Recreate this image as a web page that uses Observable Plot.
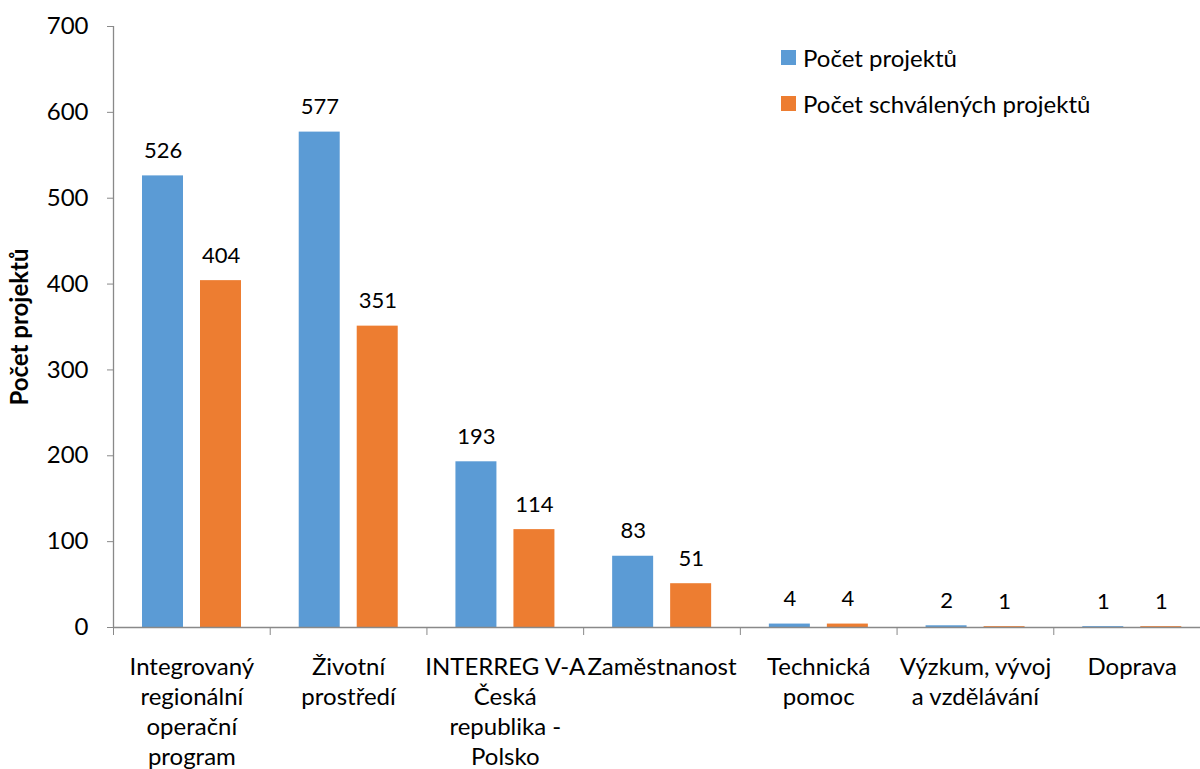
<!DOCTYPE html>
<html>
<head>
<meta charset="utf-8">
<script src="https://cdn.jsdelivr.net/npm/d3@7"></script>
<script src="https://cdn.jsdelivr.net/npm/@observablehq/plot@0.6"></script>
<style>
  html, body { margin: 0; padding: 0; background: #fff; }
  #wrap { position: relative; width: 1200px; height: 769px; overflow: hidden; font-family: Lato, "Open Sans", sans-serif; }
  #wrap svg { display: block; }
  .legend { position: absolute; left: 781px; font-size: 24px; color: #000; display: flex; align-items: center; white-space: nowrap; }
  .legend .sw { width: 15px; height: 15px; margin-right: 7px; }
</style>
</head>
<body>
<div id="wrap"></div>
<script>
const categories = [
  "Integrovaný regionální operační program",
  "Životní prostředí",
  "INTERREG V-A Česká republika - Polsko",
  "Zaměstnanost",
  "Technická pomoc",
  "Výzkum, vývoj a vzdělávání",
  "Doprava"
];
const categoryLabels = [
  "Integrovaný\nregionální\noperační\nprogram",
  "Životní\nprostředí",
  "INTERREG V-A\nČeská\nrepublika -\nPolsko",
  "Zaměstnanost",
  "Technická\npomoc",
  "Výzkum, vývoj\na vzdělávání",
  "Doprava"
];
const series = ["Počet projektů", "Počet schválených projektů"];
const pocetProjektu = [526, 577, 193, 83, 4, 2, 1];
const pocetSchvalenych = [404, 351, 114, 51, 4, 1, 1];
const yTicks = [0, 100, 200, 300, 400, 500, 600, 700];
const colors = ["#5B9BD5", "#ED7D31"];
const yTitle = "Počet projektů";

const rows = [];
categories.forEach((c, i) => {
  rows.push({cat: c, series: series[0], value: pocetProjektu[i]});
  rows.push({cat: c, series: series[1], value: pocetSchvalenych[i]});
});
const labelOf = new Map(categories.map((c, i) => [c, categoryLabels[i]]));

const W = 1200, H = 769;
const mL = 113, mR = -10, mT = 26, mB = 142;
const step = (W - mR - mL) / categories.length;
const axisGray = "#898989";
const font = "Lato, 'Open Sans', sans-serif";

const chart = Plot.plot({
  width: W,
  height: H,
  marginLeft: mL,
  marginRight: mR,
  marginTop: mT,
  marginBottom: mB,
  style: {fontFamily: font, fontSize: "24px", color: "#000", background: "#fff", overflow: "visible"},
  x: {domain: categories, type: "band", paddingInner: 0, paddingOuter: 0, round: false},
  y: {domain: [0, 700]},
  marks: [
    Plot.barY(rows.filter(d => d.series === series[0]), {
      x: "cat", y: "value", fill: colors[0], insetLeft: 29, insetRight: step - 70
    }),
    Plot.barY(rows.filter(d => d.series === series[1]), {
      x: "cat", y: "value", fill: colors[1], insetLeft: 87, insetRight: step - 128
    }),
    Plot.ruleY([0], {stroke: axisGray, strokeWidth: 1.3}),
    Plot.ruleX([categories[0]], {dx: -step / 2, y1: 0, y2: 700, stroke: axisGray, strokeWidth: 1.3}),
    Plot.axisY({ticks: yTicks, tickSize: 6, tickPadding: 19, stroke: axisGray, fontSize: 24, label: null, tickFormat: d3.format("d")}),
    Plot.axisX({tickSize: 8, tickPadding: 0, text: null, dx: -step / 2, stroke: axisGray, label: null}),
    Plot.axisX({tickSize: 0, tickPadding: 26, tickFormat: d => labelOf.get(d), lineHeight: 1.25, fontSize: 24, label: null}),
    Plot.text(rows.filter(d => d.series === series[0]), {
      x: "cat", y: "value", text: d => String(d.value), dx: -28.8, dy: -25, lineAnchor: "middle", fontSize: 22, fill: "#000"
    }),
    Plot.text(rows.filter(d => d.series === series[1]), {
      x: "cat", y: "value", text: d => String(d.value), dx: 29.2, dy: -25, lineAnchor: "middle", fontSize: 22, fill: "#000"
    }),
    Plot.text([yTitle], {
      text: d => d, frameAnchor: "left", textAnchor: "middle", rotate: -90, dx: -93, fontWeight: "bold", fontSize: 24, fill: "#000"
    })
  ]
});

const wrap = document.getElementById("wrap");
wrap.appendChild(chart);

series.forEach((s, i) => {
  const el = document.createElement("div");
  el.className = "legend";
  el.style.top = (i === 0 ? 43 : 89) + "px";
  el.innerHTML = `<div class="sw" style="background:${colors[i]}"></div><span>${s}</span>`;
  wrap.appendChild(el);
});
</script>
</body>
</html>
